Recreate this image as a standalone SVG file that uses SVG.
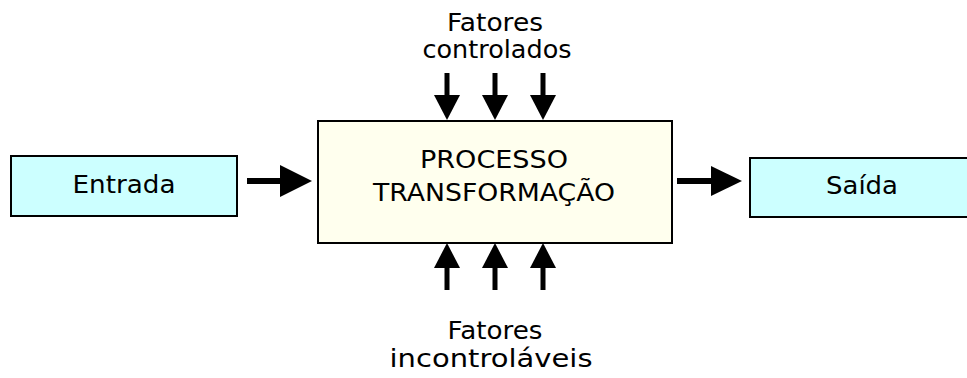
<svg xmlns="http://www.w3.org/2000/svg" width="967" height="378" viewBox="0 0 967 378">
<style>
text{font-family:"DejaVu Sans","Verdana",sans-serif;font-size:25px;fill:#000;text-anchor:middle}
.io{fill:#ccffff;stroke:#000;stroke-width:2}
.proc{fill:#ffffee;stroke:#000;stroke-width:2}
.shaft{stroke:#000;stroke-width:5;fill:none}
.head{fill:#000}
</style>
<rect width="967" height="378" fill="#fff"/>
<g id="entrada">
<rect class="io" x="11" y="156" width="226" height="60"/>
<text x="124" y="193" textLength="103" lengthAdjust="spacingAndGlyphs">Entrada</text>
</g>
<g id="processo">
<rect class="proc" x="318" y="121" width="354" height="122"/>
<text x="494" y="168" textLength="148" lengthAdjust="spacingAndGlyphs">PROCESSO</text>
<text x="494" y="201" textLength="242" lengthAdjust="spacingAndGlyphs">TRANSFORMAÇÃO</text>
</g>
<g id="saida">
<rect class="io" x="750" y="158" width="230" height="59"/>
<text x="862" y="194" textLength="72" lengthAdjust="spacingAndGlyphs">Saída</text>
</g>
<g id="fatores-controlados">
<text x="495" y="31" textLength="96" lengthAdjust="spacingAndGlyphs">Fatores</text>
<text x="497" y="58" textLength="149" lengthAdjust="spacingAndGlyphs">controlados</text>
</g>
<g id="fatores-incontrolaveis">
<text x="495" y="339" textLength="95" lengthAdjust="spacingAndGlyphs">Fatores</text>
<text x="491" y="367" textLength="203" lengthAdjust="spacingAndGlyphs">incontroláveis</text>
</g>
<g id="connectors">
<line class="shaft" x1="247" y1="181" x2="282" y2="181" style="stroke-width:6"/>
<polygon class="head" points="280,165 312,181 280,197"/>
<line class="shaft" x1="677" y1="181" x2="713" y2="181" style="stroke-width:6"/>
<polygon class="head" points="711,166 742,181 711,196"/>
<line class="shaft" x1="447" y1="73" x2="447" y2="97"/>
<polygon class="head" points="434,95 460,95 447,120"/>
<line class="shaft" x1="495" y1="73" x2="495" y2="97"/>
<polygon class="head" points="482,95 508,95 495,120"/>
<line class="shaft" x1="543" y1="73" x2="543" y2="97"/>
<polygon class="head" points="530,95 556,95 543,120"/>
<line class="shaft" x1="447" y1="266" x2="447" y2="290"/>
<polygon class="head" points="434,268 460,268 447,243"/>
<line class="shaft" x1="495" y1="266" x2="495" y2="290"/>
<polygon class="head" points="482,268 508,268 495,243"/>
<line class="shaft" x1="543" y1="266" x2="543" y2="290"/>
<polygon class="head" points="530,268 556,268 543,243"/>
</g>
</svg>
